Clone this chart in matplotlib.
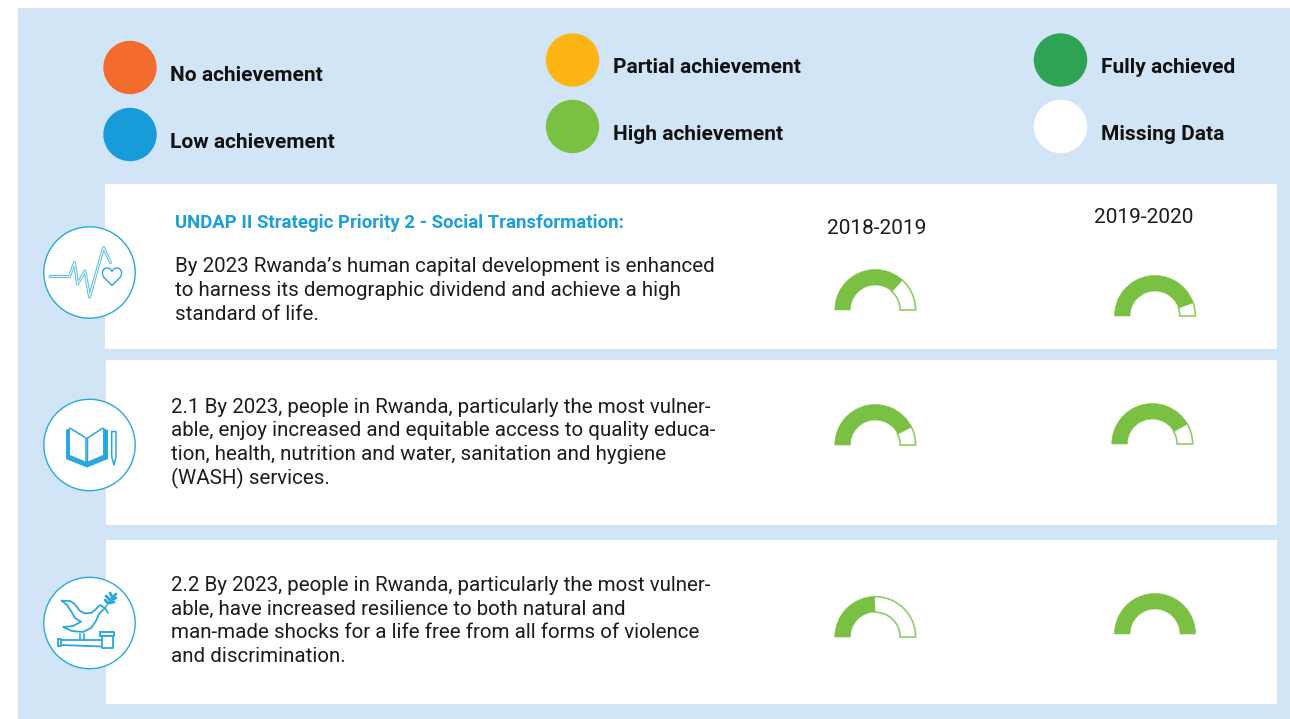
import matplotlib
matplotlib.use('Agg')
import matplotlib.pyplot as plt
from matplotlib.patches import Circle, Rectangle, Wedge, PathPatch, Polygon
from matplotlib.path import Path

# legend
legend_labels = ['No achievement', 'Low achievement', 'Partial achievement',
                 'High achievement', 'Fully achieved', 'Missing Data']
legend_colors = ['#f36c2e', '#189cd9', '#fdb515', '#7ac143', '#2ea354', '#ffffff']

# share of each gauge that is filled, one value per row
years = ['2018-2019', '2019-2020']
filled_2018 = [0.73, 0.85, 0.49]
filled_2019 = [0.89, 0.83, 1.00]

heading = 'UNDAP II Strategic Priority 2 - Social Transformation:'
text_rows = [
    ["By 2023 Rwanda\u2019s human capital development is enhanced",
     "to harness its demographic dividend and achieve a high",
     "standard of life."],
    ["2.1 By 2023, people in Rwanda, particularly the most vulner-",
     "able, enjoy increased and equitable access to quality educa-",
     "tion, health, nutrition and water, sanitation and hygiene",
     "(WASH) services."],
    ["2.2 By 2023, people in Rwanda, particularly the most vulner-",
     "able, have increased resilience to both natural and",
     "man-made shocks for a life free from all forms of violence",
     "and discrimination."],
]

BG = '#d1e5f6'
BLUE = '#29a8df'
GREEN = '#7ac143'
INK = '#1c1c1c'

plt.rcParams['font.family'] = ['Roboto', 'DejaVu Sans']

fig = plt.figure(figsize=(12.9, 7.19), dpi=100, facecolor='white')
ax = fig.add_axes([0, 0, 1, 1])
ax.set_xlim(0, 1290)
ax.set_ylim(719, 0)  # pixel coordinates, y goes down
ax.axis('off')

ax.add_patch(Rectangle((18, 8), 1272, 711, fc=BG, ec='none'))

# white bands
ax.add_patch(Rectangle((105, 184), 1172, 165, fc='white', ec='none'))
ax.add_patch(Rectangle((106, 360), 1171, 165, fc='white', ec='none'))
ax.add_patch(Rectangle((106, 540), 1171, 164, fc='white', ec='none'))

# legend
legend_pos = [(130, 67.5), (130, 134.5), (572.5, 60), (572.5, 126.5), (1060.5, 60), (1060.5, 126.5)]
for (cx, cy), col, lab in zip(legend_pos, legend_colors, legend_labels):
    ax.add_patch(Circle((cx, cy), 26.7, fc=col, ec='none'))
    ax.text(cx + 40.5, cy + 7.7, lab, fontsize=15.0, fontweight='bold', color='#111111',
            va='center', ha='left')

# text
ax.text(175, 222.5, heading, fontsize=13.4, fontweight='bold', color='#1e9fd8', va='center')
for i, line_txt in enumerate(text_rows[0]):
    ax.text(175, 267 + i * 24, line_txt, fontsize=14.75, color=INK, va='center')
for i, line_txt in enumerate(text_rows[1]):
    ax.text(171, 407.5 + i * 23.5, line_txt, fontsize=14.8, color=INK, va='center')
for i, line_txt in enumerate(text_rows[2]):
    ax.text(171, 585.5 + i * 23.5, line_txt, fontsize=14.8, color=INK, va='center')

ax.text(877, 228.5, years[0], fontsize=15, color=INK, ha='center', va='center')
ax.text(1144, 217.5, years[1], fontsize=15, color=INK, ha='center', va='center')


def gauge(cx, cy, share):
    # y axis is flipped, so the upper half runs from 180 to 360 degrees
    split = 180 + 180 * share
    if share < 1:
        ax.add_patch(Wedge((cx, cy), 40.3, split, 360, width=15.5, fc='white', ec='#8fcc64', lw=1.2))
    ax.add_patch(Wedge((cx, cy), 40.5, 180, split, width=15.5, fc=GREEN, ec=GREEN, lw=0.4))


gauge_left = [(875.3, 310), (875.3, 445), (875.3, 637)]
gauge_right = [(1155, 316), (1152.3, 444), (1155, 634)]
for (cx, cy), share in zip(gauge_left, filled_2018):
    gauge(cx, cy, share)
for (cx, cy), share in zip(gauge_right, filled_2019):
    gauge(cx, cy, share)

# icon discs
icon_centres = [(89.5, 272.5), (89.5, 445), (89.5, 623)]
for c in icon_centres:
    ax.add_patch(Circle(c, 45.7, fc='white', ec=BLUE, lw=1.0))


def line(pts, lw=1.2, col=BLUE, closed=False):
    xs = [p[0] for p in pts]
    ys = [p[1] for p in pts]
    if closed:
        xs.append(xs[0])
        ys.append(ys[0])
    ax.plot(xs, ys, color=col, lw=lw, solid_joinstyle='round', solid_capstyle='round')


# icon 1: pulse and heart
pulse = [(50, 276.5), (69.5, 276.5), (74.5, 262.5), (77.5, 284), (85, 271),
         (89.5, 297), (103.5, 247.5), (110.5, 262.5)]
line(pulse, lw=2.2, col='#5fbde6')
line(pulse, lw=0.7, col='white')
heart = Path([(112, 285.5), (104.5, 278),
              (101, 274.5), (102, 268), (107, 268),
              (109.5, 268), (111, 269.5), (112, 271.5),
              (113, 269.5), (114.5, 268), (117, 268),
              (122, 268), (123, 274.5), (119.5, 278),
              (112, 285.5)],
             [Path.MOVETO, Path.LINETO] + [Path.CURVE4] * 12 + [Path.LINETO])
ax.add_patch(PathPatch(heart, fc='none', ec=BLUE, lw=1.0))

# icon 2: open book and pencil
ax.add_patch(Polygon([(66, 430), (70, 428), (70, 455), (86.7, 462), (103, 455), (103, 428),
                      (108, 430), (108, 459), (87, 467.5), (66, 459)], fc=BLUE, ec='none'))
line([(70, 428), (86, 438), (86, 463)], lw=1.1)
line([(103, 428), (87.5, 438), (87.5, 463)], lw=1.1)
line([(111.7, 431.5), (116, 431.5), (116, 457), (114, 465), (111.7, 457)], lw=1.1, closed=True)

# icon 3: dove and gavel
dove = [(61.7, 600.7), (70, 601), (74, 603.5), (76.7, 606.7), (80, 611), (85, 613.5), (91.7, 612.7),
        (96, 609), (100, 605), (105, 608), (99, 614), (96, 621), (91, 628), (83, 632),
        (72, 631), (63, 627), (73, 626), (81, 621.7), (75, 618), (71, 611), (67, 605),
        (61.7, 600.7)]
line(dove, lw=1.3)
line([(105, 608), (108, 613)], lw=1.2)
line([(105, 608), (113, 596)], lw=1.0)
for leaf in [[(108, 603), (105, 600)], [(110, 600), (106, 596)], [(112, 597), (110, 593)],
             [(109, 603), (114, 602)], [(111, 600), (116, 598)], [(113, 597), (116, 594)]]:
    line(leaf, lw=2.0)
line([(80, 634), (80, 640)], lw=1.2)
line([(84, 634), (84, 640)], lw=1.2)
# gavel
line([(58, 639), (61, 639), (61, 645.5), (58, 645.5)], lw=1.3, closed=True)
line([(61, 640), (101, 640)], lw=1.3)
line([(61, 645), (101, 646.5)], lw=1.3)
line([(101.7, 636), (101.7, 648), (112.7, 648), (112.7, 636)], lw=1.3)
line([(100, 632), (114, 632), (114, 635.5), (100, 635.5)], lw=1.4, closed=True)

fig.savefig('out.png', dpi=100)
